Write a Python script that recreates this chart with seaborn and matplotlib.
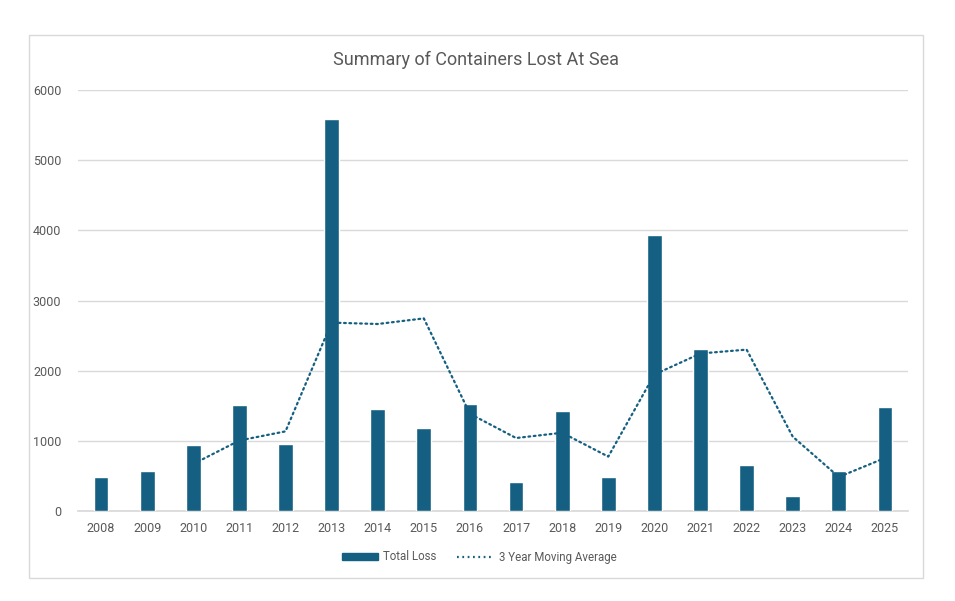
import numpy as np
import pandas as pd
import seaborn as sns
import matplotlib.pyplot as plt
from matplotlib.patches import Rectangle
from matplotlib.lines import Line2D
from matplotlib.patches import Patch

years = [str(y) for y in range(2008, 2026)]
total_loss = [486, 576, 938, 1505, 957, 5590, 1452, 1190, 1519, 410,
              1419, 490, 3933, 2305, 662, 219, 571, 1476]
# 3 year moving average, first point at 2010
ma_years = years[2:]
moving_avg = [670, 1005, 1135, 2685, 2665, 2745, 1385, 1040, 1115, 775,
              1945, 2245, 2300, 1060, 485, 755]

bar_color = '#156082'
text_color = '#595959'
grid_color = '#d9d9d9'

sns.set_theme(style='white')
plt.rcParams['font.family'] = ['Roboto', 'DejaVu Sans']

fig = plt.figure(figsize=(9.55, 6.01), dpi=100)
ax = fig.add_axes([78/955, 90/601, 830/955, 421/601])

# chart frame like the Excel chart area
fig.patches.append(Rectangle((29/955, 23/601), 894/955, 543/601,
                             transform=fig.transFigure, fill=False,
                             edgecolor=grid_color, linewidth=1))

df = pd.DataFrame({'year': years, 'loss': total_loss})
ma_df = pd.DataFrame({'year': ma_years, 'ma': moving_avg})

sns.barplot(data=df, x='year', y='loss', color=bar_color, width=0.32,
            saturation=1, ax=ax, zorder=3)
sns.lineplot(data=ma_df, x='year', y='ma', color=bar_color, linewidth=1.6,
             ax=ax, zorder=4, sort=False)
ax.lines[-1].set_dashes([0.8, 1.6])
ax.lines[-1].set_dash_capstyle('round')

ax.set_ylim(0, 6000)
ax.set_xlim(-0.5, 17.5)
ax.set_yticks(range(0, 6001, 1000))
ax.yaxis.grid(True, color=grid_color, linewidth=1)
ax.set_axisbelow(True)
for s in ['top', 'right', 'left']:
    ax.spines[s].set_visible(False)
ax.spines['bottom'].set_color(grid_color)
ax.tick_params(axis='both', length=0, labelsize=9, colors=text_color)
ax.tick_params(axis='y', pad=12)
ax.tick_params(axis='x', pad=8)
ax.set_xlabel('')
ax.set_ylabel('')

fig.text(476/955, 1 - 60/601, 'Summary of Containers Lost At Sea',
         ha='center', va='center', fontsize=13, color=text_color)

handles = [Patch(facecolor=bar_color, edgecolor=bar_color),
           Line2D([0], [0], color=bar_color, linewidth=1.6, dashes=[0.8, 1.6])]
leg = fig.legend(handles, ['Total Loss', '3 Year Moving Average'],
                 loc='center', bbox_to_anchor=(479/955, 1 - 557/601), ncol=2,
                 frameon=False, fontsize=8.3, labelcolor=text_color,
                 handlelength=3.2, handleheight=0.5, columnspacing=1.8,
                 handletextpad=0.4)

fig.savefig('out.png', dpi=100)
